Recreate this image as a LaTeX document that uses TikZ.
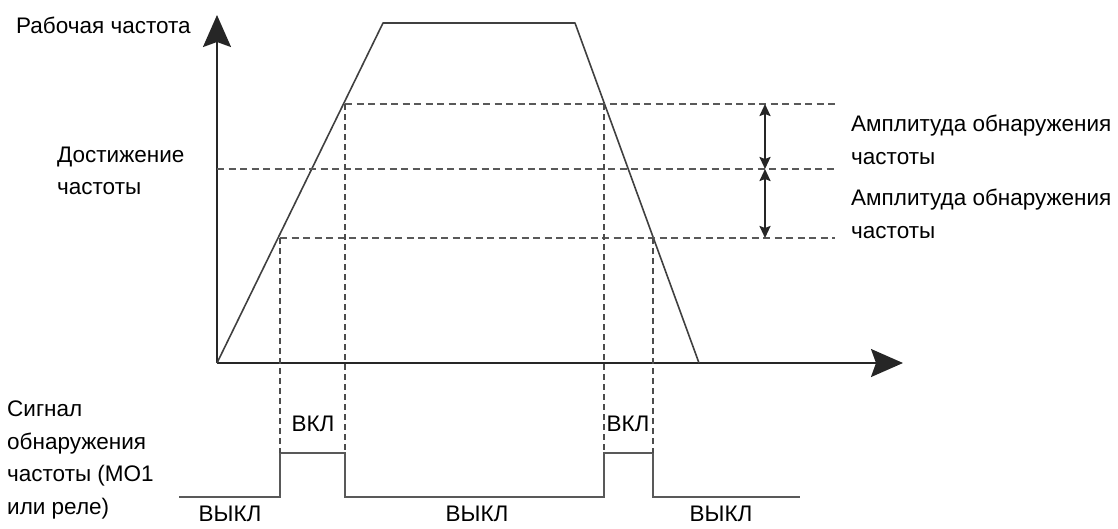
\documentclass[tikz,border=0pt]{standalone}
\usepackage{fontspec}
\setmainfont{Liberation Sans}
\usetikzlibrary{arrows.meta}
\begin{document}
\begin{tikzpicture}[x=1pt,y=-1pt,
  axis/.style={line width=2pt, draw=black!70, -{Stealth[length=32pt,width=28pt,inset=5pt]}, black!85},
  curve/.style={line width=1.6pt, draw=black!75},
  hdash/.style={line width=1.5pt, draw=black!65, dash pattern=on 7pt off 4.5pt},
  vdash/.style={line width=1.2pt, draw=black!70, dash pattern=on 6pt off 4pt},
  sig/.style={line width=1.6pt, draw=black!65},
  dbl/.style={line width=2.2pt, draw=black!85, {Stealth[length=12pt,width=11pt,inset=2pt]}-{Stealth[length=12pt,width=11pt,inset=2pt]}},
  lbl/.style={font=\fontsize{22.5}{32.5}\selectfont, inner sep=0pt, text=black},
  lblL/.style={lbl, anchor=west, align=left},
]
\useasboundingbox (0,0) rectangle (1118,528);
% axes
\coordinate (O) at (217,363);
\coordinate (Ytip) at (217,15);
\coordinate (Xtip) at (903,363);
\draw[axis] (O) -- (Ytip);
\draw[axis] (O) -- (Xtip);
% trapezoid
\coordinate (T1) at (383,23);
\coordinate (T2) at (575,23);
\coordinate (F) at (699,363);
\draw[curve, line join=round] (O) -- (T1) -- (T2) -- (F);
% intersections
\coordinate (LU) at (345,104);
\coordinate (LM) at (313,169);
\coordinate (LL) at (280,238);
\coordinate (RU) at (604,104);
\coordinate (RL) at (653,238);
\coordinate (YM) at (217,169);
\coordinate (EU) at (837,104);
\coordinate (EM) at (837,169);
\coordinate (EL) at (835,238);
\draw[hdash] (LU) -- (EU);
\draw[hdash] (YM) -- (EM);
\draw[hdash] (LL) -- (EL);
% amplitude arrows
\coordinate (AU) at (765,104);
\coordinate (AM) at (765,169);
\coordinate (AL) at (765,238);
\draw[dbl] (AU) -- (AM);
\draw[dbl] (AM) -- (AL);
% signal
\coordinate (S0) at (179,497);
\coordinate (S1) at (280,497);
\coordinate (S1h) at (280,453);
\coordinate (S2h) at (345,453);
\coordinate (S2) at (345,497);
\coordinate (S3) at (604,497);
\coordinate (S3h) at (604,453);
\coordinate (S4h) at (653,453);
\coordinate (S4) at (653,497);
\coordinate (S5) at (800,497);
\draw[sig, line join=miter] (S0) -- (S1) -- (S1h) -- (S2h) -- (S2) -- (S3) -- (S3h) -- (S4h) -- (S4) -- (S5);
% vertical dashed
\draw[vdash] (LL) -- (S1h);
\draw[vdash] (LU) -- (S2h);
\draw[vdash] (RU) -- (S3h);
\draw[vdash] (RL) -- (S4h);
% labels
\node[lblL] (ylab) at (16,25) {Рабочая частота};
\node[lblL] (reach) at (57,171) {Достижение\\частоты};
\node[lblL] (amp1) at (851,140) {Амплитуда обнаружения\\частоты};
\node[lblL] (amp2) at (851,214) {Амплитуда обнаружения\\частоты};
\node[lblL] (siglab) at (7,460) {Сигнал\\обнаружения\\частоты (МО1\\или реле)};
\node[lbl] (on1) at (313,424) {ВКЛ};
\node[lbl] (on2) at (628,424) {ВКЛ};
\node[lbl] (off1) at (230,514) {ВЫКЛ};
\node[lbl] (off2) at (477,514) {ВЫКЛ};
\node[lbl] (off3) at (721,514) {ВЫКЛ};
\end{tikzpicture}
\end{document}
